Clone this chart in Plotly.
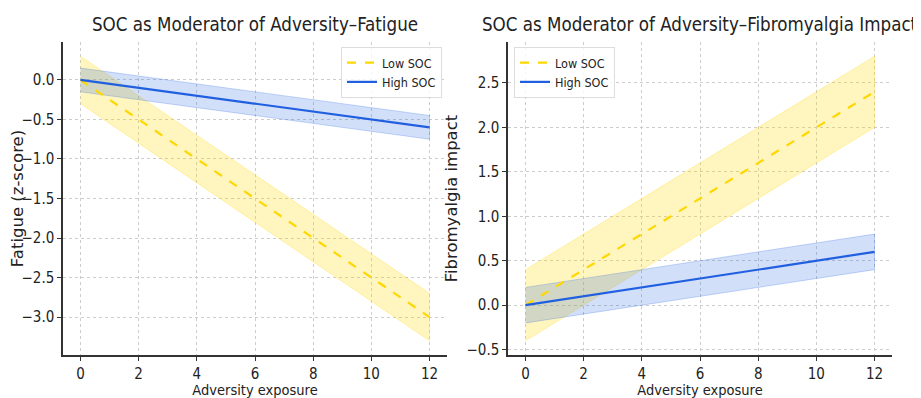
import plotly.graph_objects as go
from plotly.subplots import make_subplots

# ---- data ----
x_vals = [0, 12]
fatigue_low = [0.0, -3.0]
fatigue_low_ci = 0.3
fatigue_high = [0.0, -0.6]
fatigue_high_ci = 0.15
fibro_low = [0.0, 2.4]
fibro_low_ci = 0.4
fibro_high = [0.0, 0.6]
fibro_high_ci = 0.2
x_ticks = [0, 2, 4, 6, 8, 10, 12]
fatigue_yticks = [0.0, -0.5, -1.0, -1.5, -2.0, -2.5, -3.0]
fibro_yticks = [-0.5, 0.0, 0.5, 1.0, 1.5, 2.0, 2.5]
series_names = ["Low SOC", "High SOC"]

GOLD = "#FFD700"
BLUE = "#1f5fe0"
GOLD_FILL = "rgba(255,215,0,0.25)"
BLUE_FILL = "rgba(31,95,224,0.2)"
GOLD_EDGE = "rgba(255,215,0,0.35)"
BLUE_EDGE = "rgba(31,95,224,0.3)"
NARROW = "DejaVu Sans Condensed, DejaVu Sans, sans-serif"
VFONT = "DejaVu Sans, sans-serif"

# page body has an 8px margin; place the figure so it lands on the window
OX, OY = 8, 8
W, H = 921 - OX, 398 - OY


def px(x):
    return (x - OX) / W


def py(y):
    return 1 - (y - OY) / H


fig = make_subplots(rows=1, cols=2)


def band(x, y, ci, fill, edge, col):
    upper = [v + ci for v in y]
    lower = [v - ci for v in y]
    fig.add_trace(go.Scatter(x=x + x[::-1], y=upper + lower[::-1], fill="toself",
                             fillcolor=fill, line=dict(color=edge, width=0.8),
                             mode="lines", showlegend=False, hoverinfo="skip"),
                  row=1, col=col)


for col, (low, lci, high, hci) in enumerate(
        [(fatigue_low, fatigue_low_ci, fatigue_high, fatigue_high_ci),
         (fibro_low, fibro_low_ci, fibro_high, fibro_high_ci)], start=1):
    band(x_vals, low, lci, GOLD_FILL, GOLD_EDGE, col)
    band(x_vals, high, hci, BLUE_FILL, BLUE_EDGE, col)
    fig.add_trace(go.Scatter(x=x_vals, y=low, mode="lines", name=series_names[0],
                             line=dict(color=GOLD, width=2.2, dash="dash"),
                             legend="legend" if col == 1 else "legend2"),
                  row=1, col=col)
    fig.add_trace(go.Scatter(x=x_vals, y=high, mode="lines", name=series_names[1],
                             line=dict(color=BLUE, width=2.2),
                             legend="legend" if col == 1 else "legend2"),
                  row=1, col=col)

ydom = [py(355), py(42)]
axis_common = dict(showgrid=True, gridcolor="#cccccc", griddash="dot", gridwidth=1,
                   showline=True, linecolor="#333333", linewidth=1.5,
                   ticks="outside", ticklen=4, tickcolor="#333333",
                   tickfont=dict(size=15, color="#222222", family=NARROW),
                   zeroline=False, mirror=False, automargin=False)
xtitle = dict(text="Adversity exposure", font=dict(size=14.5, family=NARROW), standoff=5)

fig.update_layout(
    width=W, height=H, margin=dict(l=0, r=0, t=0, b=0),
    paper_bgcolor="white", plot_bgcolor="white",
    font=dict(family=NARROW, color="#222222"),
    xaxis=dict(domain=[px(63), px(447)], range=[-0.6, 12.6], tickvals=x_ticks,
               title=xtitle, **axis_common),
    yaxis=dict(domain=ydom, range=[-3.48, 0.48], tickvals=fatigue_yticks,
               tickformat=".1f",
               title=dict(text="Fatigue (z-score)", font=dict(size=16.5, family=VFONT),
                          standoff=5),
               **axis_common),
    xaxis2=dict(domain=[px(508), px(892)], range=[-0.6, 12.6], tickvals=x_ticks,
                title=xtitle, **axis_common),
    yaxis2=dict(domain=ydom, range=[-0.56, 2.96], tickvals=fibro_yticks,
                tickformat=".1f",
                title=dict(text="Fibromyalgia impact", font=dict(size=16.5, family=VFONT),
                           standoff=5),
                **axis_common),
    legend=dict(x=px(442), y=py(47), xanchor="right", yanchor="top",
                bgcolor="rgba(255,255,255,0.8)", bordercolor="#dddddd", borderwidth=1,
                font=dict(size=12.5), tracegroupgap=0, itemwidth=30),
    legend2=dict(x=px(514), y=py(47), xanchor="left", yanchor="top",
                 bgcolor="rgba(255,255,255,0.8)", bordercolor="#dddddd", borderwidth=1,
                 font=dict(size=12.5), tracegroupgap=0, itemwidth=30),
    annotations=[
        dict(text="SOC as Moderator of Adversity–Fatigue", x=px(255), y=py(25),
             xref="paper", yref="paper", showarrow=False, xanchor="center",
             yanchor="middle", font=dict(size=18.6, color="#222222")),
        dict(text="SOC as Moderator of Adversity–Fibromyalgia Impact", x=px(700),
             y=py(25), xref="paper", yref="paper", showarrow=False,
             xanchor="center", yanchor="middle", font=dict(size=18.6, color="#222222")),
    ],
)

fig.write_html("out.html")
